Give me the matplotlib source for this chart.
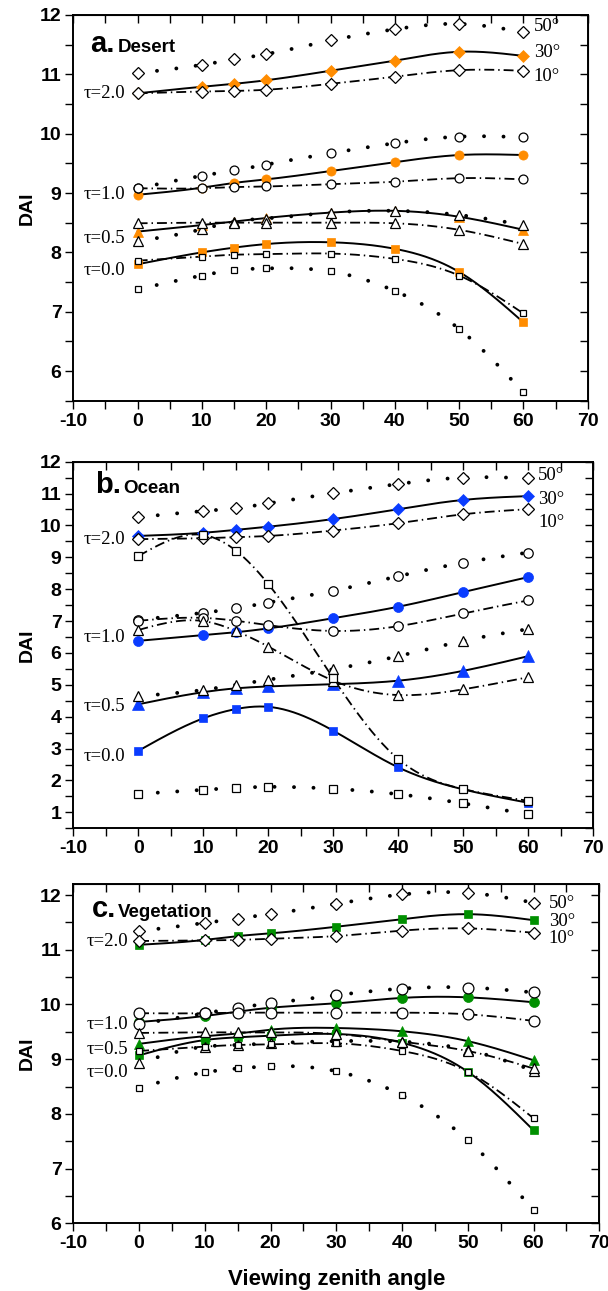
import numpy as np
import matplotlib
matplotlib.use("Agg")
import matplotlib.pyplot as plt
from matplotlib.ticker import MultipleLocator

# ---------------- data ----------------
vza = [0, 10, 15, 20, 30, 40, 50, 60]

# Desert
desert_t20_50 = [11.02, 11.16, 11.25, 11.34, 11.57, 11.76, 11.85, 11.71]
desert_t20_30 = [10.68, 10.79, 10.84, 10.90, 11.06, 11.23, 11.38, 11.31]
desert_t20_10 = [10.68, 10.71, 10.72, 10.74, 10.84, 10.96, 11.07, 11.06]
desert_t10_50 = [9.08, 9.29, 9.38, 9.48, 9.67, 9.84, 9.95, 9.94]
desert_t10_30 = [8.97, 9.09, 9.17, 9.23, 9.37, 9.52, 9.64, 9.64]
desert_t10_10 = [9.08, 9.08, 9.10, 9.11, 9.15, 9.19, 9.25, 9.23]
desert_t05_50 = [8.19, 8.39, 8.52, 8.57, 8.67, 8.70, 8.63, 8.46]
desert_t05_30 = [8.35, 8.46, 8.52, 8.58, 8.67, 8.70, 8.60, 8.38]
desert_t05_10 = [8.49, 8.50, 8.50, 8.50, 8.50, 8.49, 8.38, 8.14]
desert_t00_50 = [7.38, 7.61, 7.70, 7.73, 7.68, 7.35, 6.71, 5.64]
desert_t00_30 = [7.80, 8.00, 8.08, 8.14, 8.17, 8.06, 7.67, 6.82]
desert_t00_10 = [7.86, 7.93, 7.96, 7.97, 7.98, 7.89, 7.61, 6.97]

# Ocean
ocean_t20_50 = [10.26, 10.45, 10.54, 10.69, 11.01, 11.30, 11.50, 11.48]
ocean_t20_30 = [9.67, 9.77, 9.86, 9.96, 10.20, 10.51, 10.80, 10.92]
ocean_t20_10 = [9.57, 9.60, 9.63, 9.67, 9.84, 10.07, 10.35, 10.51]
ocean_t10_50 = [7.04, 7.26, 7.40, 7.58, 7.95, 8.41, 8.83, 9.15]
ocean_t10_30 = [6.38, 6.56, 6.65, 6.77, 7.09, 7.45, 7.91, 8.38]
ocean_t10_10 = [7.01, 7.10, 7.01, 6.87, 6.69, 6.84, 7.24, 7.65]
ocean_t05_50 = [4.65, 4.84, 5.00, 5.16, 5.49, 5.90, 6.38, 6.75]
ocean_t05_30 = [4.39, 4.77, 4.89, 4.95, 5.02, 5.13, 5.44, 5.90]
ocean_t05_10 = [6.72, 7.00, 6.69, 6.20, 5.13, 4.68, 4.86, 5.24]
ocean_t00_50 = [1.58, 1.71, 1.77, 1.80, 1.74, 1.57, 1.28, 0.94]
ocean_t00_30 = [2.93, 3.95, 4.24, 4.31, 3.56, 2.41, 1.72, 1.30]
ocean_t00_10 = [9.04, 9.70, 9.21, 8.16, 5.20, 2.67, 1.73, 1.36]

# Vegetation
veg_t20_50 = [11.34, 11.49, 11.57, 11.65, 11.84, 12.01, 12.04, 11.86]
veg_t20_30 = [11.09, 11.18, 11.25, 11.30, 11.42, 11.56, 11.65, 11.54]
veg_t20_10 = [11.16, 11.17, 11.18, 11.20, 11.25, 11.35, 11.39, 11.31]
veg_t10_50 = [9.64, 9.84, 9.94, 10.02, 10.17, 10.29, 10.31, 10.22]
veg_t10_30 = [9.68, 9.79, 9.87, 9.94, 10.02, 10.12, 10.13, 10.04]
veg_t10_10 = [9.84, 9.84, 9.85, 9.85, 9.85, 9.85, 9.82, 9.70]
veg_t05_50 = [8.93, 9.23, 9.26, 9.29, 9.33, 9.32, 9.17, 8.79]
veg_t05_30 = [9.28, 9.42, 9.47, 9.54, 9.57, 9.51, 9.33, 8.98]
veg_t05_10 = [9.48, 9.49, 9.49, 9.49, 9.46, 9.32, 9.15, 8.83]
veg_t00_50 = [8.48, 8.76, 8.83, 8.87, 8.78, 8.34, 7.52, 6.24]
veg_t00_30 = [9.07, 9.35, 9.40, 9.43, 9.46, 9.30, 8.77, 7.70]
veg_t00_10 = [9.15, 9.23, 9.26, 9.27, 9.29, 9.15, 8.77, 7.92]

tau_labels = ["\u03c4=2.0", "\u03c4=1.0", "\u03c4=0.5", "\u03c4=0.0"]
sza_labels = ["50\u00b0", "30\u00b0", "10\u00b0"]
panel_letters = ["a.", "b.", "c."]
panel_names = ["Desert", "Ocean", "Vegetation"]
x_ticks = [-10, 0, 10, 20, 30, 40, 50, 60, 70]

# ---------------- helpers ----------------
def spline(x, y, n=300):
    x = np.asarray(x, float)
    y = np.asarray(y, float)
    m = len(x)
    h = np.diff(x)
    A = np.zeros((m, m))
    b = np.zeros(m)
    A[0, 0] = A[-1, -1] = 1.0
    for i in range(1, m - 1):
        A[i, i - 1] = h[i - 1]
        A[i, i] = 2 * (h[i - 1] + h[i])
        A[i, i + 1] = h[i]
        b[i] = 3 * ((y[i + 1] - y[i]) / h[i] - (y[i] - y[i - 1]) / h[i - 1])
    c = np.linalg.solve(A, b)
    bb = (y[1:] - y[:-1]) / h - h * (2 * c[:-1] + c[1:]) / 3
    d = (c[1:] - c[:-1]) / (3 * h)
    xs = np.linspace(x[0], x[-1], n)
    idx = np.clip(np.searchsorted(x, xs, side="right") - 1, 0, m - 2)
    dx = xs - x[idx]
    ys = y[idx] + bb[idx] * dx + c[idx] * dx ** 2 + d[idx] * dx ** 3
    return xs, ys

SANS = "Liberation Sans"
SERIF = "Liberation Serif"
plt.rcParams["font.family"] = [SANS, "DejaVu Sans"]
plt.rcParams["axes.unicode_minus"] = False

DOT = (0, (0.01, 5.0))
DASHDOT = (0, (5.5, 2.2, 0.8, 2.2))

fig = plt.figure(figsize=(6.08, 12.91), dpi=100)

positions = [
    [0.1206, 0.6896, 0.8461, 0.2988],
    [0.1206, 0.3584, 0.8553, 0.2840],
    [0.1206, 0.0524, 0.8651, 0.2628],
]
ylims = [(5.5, 12.0), (0.5, 12.0), (6.0, 12.2)]
ymajor = [range(6, 13), range(1, 13), range(6, 13)]
fill_colors = ["#FF8C00", "#0A3CFF", "#009000"]

panels = [
    [(desert_t20_50, desert_t20_30, desert_t20_10),
     (desert_t10_50, desert_t10_30, desert_t10_10),
     (desert_t05_50, desert_t05_30, desert_t05_10),
     (desert_t00_50, desert_t00_30, desert_t00_10)],
    [(ocean_t20_50, ocean_t20_30, ocean_t20_10),
     (ocean_t10_50, ocean_t10_30, ocean_t10_10),
     (ocean_t05_50, ocean_t05_30, ocean_t05_10),
     (ocean_t00_50, ocean_t00_30, ocean_t00_10)],
    [(veg_t20_50, veg_t20_30, veg_t20_10),
     (veg_t10_50, veg_t10_30, veg_t10_10),
     (veg_t05_50, veg_t05_30, veg_t05_10),
     (veg_t00_50, veg_t00_30, veg_t00_10)],
]

open_markers = ["D", "o", "^", "s"]
# filled (30 deg) markers per panel
fill_markers = [["D", "o", "^", "s"], ["D", "o", "^", "s"], ["s", "o", "^", "s"]]
# marker sizes per panel per tau: (open, filled)
msizes = [
    [(5.8, 5.8), (6.4, 6.6), (7.6, 7.6), (5.0, 5.4)],
    [(5.8, 6.2), (6.8, 7.2), (7.6, 8.0), (5.2, 6.4)],
    [(5.8, 6.0), (7.8, 7.2), (7.0, 7.6), (4.6, 5.6)],
]
small_sq_50 = [5.0, 5.2, 4.0]

tau_label_y = [
    [10.68, 8.97, 8.23, 7.69],
    [9.57, 6.49, 4.31, 2.75],
    [11.15, 9.63, 9.18, 8.76],
]
tau_label_x = [-2.0, -2.0, -1.6]
sza_label_y = [
    [11.80, 11.37, 10.97],
    [11.58, 10.82, 10.09],
    [11.85, 11.51, 11.21],
]
sza_label_x = [61.6, 61.5, 62.3]
title_pos = [(0.032, 0.904, 0.087), (0.042, 0.914, 0.096), (0.035, 0.902, 0.0856)]

for p in range(3):
    ax = fig.add_axes(positions[p])
    ax.set_xlim(-10, 70)
    ax.set_ylim(*ylims[p])
    ax.set_xticks(x_ticks)
    ax.xaxis.set_minor_locator(MultipleLocator(5))
    ax.set_yticks(list(ymajor[p]))
    ax.yaxis.set_minor_locator(MultipleLocator(0.5))
    ax.tick_params(which="both", direction="out", length=5.5, width=1.0,
                   labelsize=14, pad=3)
    for lab in ax.get_xticklabels() + ax.get_yticklabels():
        lab.set_fontweight("bold")
    for s in ax.spines.values():
        s.set_linewidth(1.4)

    # inward ticks on top and right
    top = ax.secondary_xaxis("top")
    top.set_xticks(x_ticks)
    top.xaxis.set_minor_locator(MultipleLocator(5))
    top.tick_params(which="both", direction="in", length=5.5, width=1.0, labeltop=False)
    right = ax.secondary_yaxis("right")
    right.set_yticks(list(ymajor[p]))
    right.yaxis.set_minor_locator(MultipleLocator(0.5))
    right.tick_params(which="both", direction="in", length=5.5, width=1.0, labelright=False)

    for t in range(4):
        s50, s30, s10 = panels[p][t]
        mk = open_markers[t]
        fmk = fill_markers[p][t]
        ms_open, ms_fill = msizes[p][t]
        if fmk == "s" and mk == "D":
            ms_fill = 5.6
        # curves
        xs, ys = spline(vza, s50)
        ax.plot(xs, ys, color="black", lw=2.8, linestyle=DOT,
                dash_capstyle="round", zorder=2)
        xs, ys = spline(vza, s30)
        ax.plot(xs, ys, color="black", lw=1.4, linestyle="-", zorder=2)
        xs, ys = spline(vza, s10)
        ax.plot(xs, ys, color="black", lw=1.3, linestyle=DASHDOT, zorder=2)
        # markers
        ax.plot(vza, s30, linestyle="none", marker=fmk, ms=ms_fill,
                mfc=fill_colors[p], mec=fill_colors[p], mew=0.5, zorder=3)
        ms50 = small_sq_50[p] if t == 3 else ms_open
        ax.plot(vza, s50, linestyle="none", marker=mk, ms=ms50,
                mfc="white", mec="black", mew=0.9, zorder=4)
        ax.plot(vza, s10, linestyle="none", marker=mk, ms=ms_open,
                mfc="white", mec="black", mew=0.9, zorder=4)
        ax.text(tau_label_x[p], tau_label_y[p][t], tau_labels[t],
                ha="right", va="center", fontsize=13.5, family=[SERIF, "DejaVu Serif"])

    for k in range(3):
        ax.text(sza_label_x[p], sza_label_y[p][k], sza_labels[k],
                ha="left", va="center", fontsize=13.5, family=[SERIF, "DejaVu Serif"])

    lx, ly, nx = title_pos[p]
    ax.text(lx, ly, panel_letters[p], transform=ax.transAxes, ha="left",
            va="baseline", fontsize=21, fontweight="bold")
    ax.text(nx, ly, panel_names[p], transform=ax.transAxes, ha="left",
            va="baseline", fontsize=13.5, fontweight="bold")

    pos = positions[p]
    fig.text(0.045, pos[1] + pos[3] / 2, "DAI", rotation=90, ha="center",
             va="center", fontsize=14, fontweight="bold")

fig.text(0.553, 0.0046, "Viewing zenith angle", ha="center", va="baseline",
         fontsize=16, fontweight="bold")

fig.savefig("out.png", dpi=100)
